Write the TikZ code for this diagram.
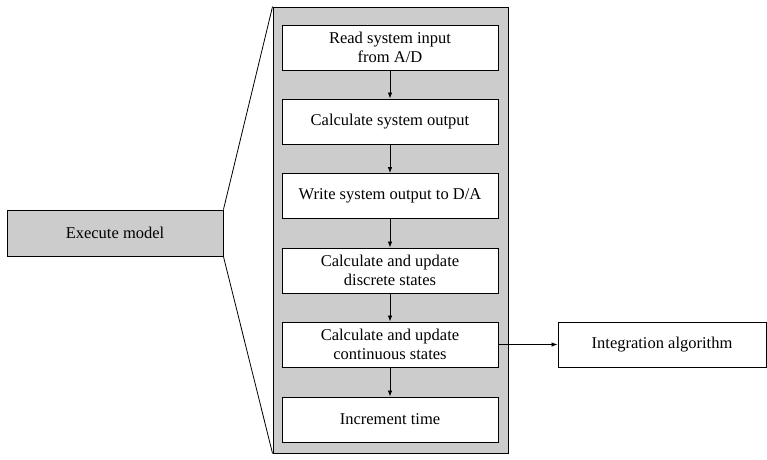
\documentclass[tikz,border=0pt]{standalone}
\usepackage{fontspec}
\setmainfont{Liberation Serif}
\usetikzlibrary{arrows.meta}
\definecolor{panelgray}{RGB}{204,204,204}
\begin{document}
\begin{tikzpicture}[x=1pt,y=-1pt,
  every node/.style={font=\fontsize{16.5}{19.5}\selectfont},
  stepbox/.style={draw=black,line width=0.9pt,fill=white,minimum width=216pt,minimum height=45pt,inner sep=0pt,align=center},
  conn/.style={draw=black,line width=0.8pt,-{Latex[length=6pt,width=4.5pt]}},
  thinline/.style={draw=black,line width=0.8pt}]
\useasboundingbox (0,0) rectangle (767,459);
\node[draw=black,line width=0.9pt,fill=panelgray,minimum width=235pt,minimum height=446pt,inner sep=0pt] (panel) at (390.5,230) {};
\node[draw=black,line width=0.9pt,fill=panelgray,minimum width=216pt,minimum height=46pt,inner sep=0pt] (exec) at (115,233) {Execute model};
\draw[thinline] (exec.north east) -- (panel.north west);
\draw[thinline] (exec.south east) -- (panel.south west);
\node[stepbox] (s1) at (390,47.5) {Read system input\\from A/D};
\node[stepbox] (s2) at (390,121.5) {Calculate system output};
\node[stepbox] (s3) at (390,196) {Write system output to D/A};
\node[stepbox] (s4) at (390,270.5) {Calculate and update\\discrete states};
\node[stepbox] (s5) at (390,344.5) {Calculate and update\\continuous states};
\node[stepbox] (s6) at (390,419.5) {Increment time};
\node[stepbox,minimum width=208pt] (integ) at (662,344.5) {Integration algorithm};
\draw[conn] (s1) -- (s2);
\draw[conn] (s2) -- (s3);
\draw[conn] (s3) -- (s4);
\draw[conn] (s4) -- (s5);
\draw[conn] (s5) -- (s6);
\draw[conn] (s5) -- (integ);
\end{tikzpicture}
\end{document}
